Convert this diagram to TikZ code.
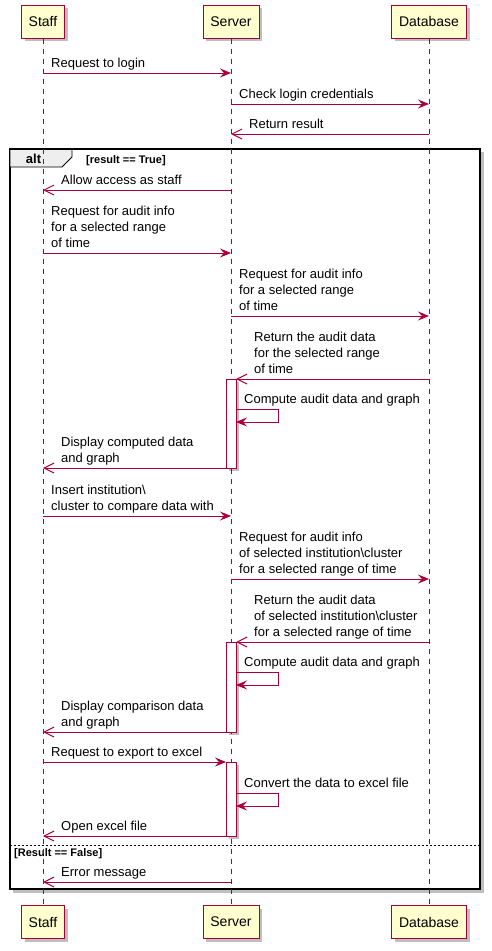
\documentclass[tikz,border=0pt]{standalone}
\usepackage{fontspec}
\setmainfont{Liberation Sans}
\usetikzlibrary{arrows.meta,shadows}
\definecolor{pred}{HTML}{A80036}
\definecolor{pfill}{HTML}{FEFECE}
\definecolor{tabgray}{HTML}{EEEEEE}
\tikzset{
  x=1pt, y=-1pt,
  pshadow/.style={drop shadow={shadow xshift=3pt, shadow yshift=-3pt, fill=black, opacity=0.25}},
  part/.style={draw=pred, fill=pfill, line width=1pt, minimum height=33pt, inner sep=0pt,
    font=\fontsize{14}{16}\selectfont, pshadow},
  lifeline/.style={draw=pred, line width=0.8pt, dash pattern=on 5pt off 5pt},
  actbox/.style={draw=pred, fill=white, line width=1pt, pshadow},
  msg/.style={draw=pred, line width=1pt, -{Stealth[length=11pt,width=9pt,inset=4pt]}},
  ret/.style={draw=pred, line width=1pt, -{Straight Barb[length=10pt,width=10pt,line width=1pt]}},
  mtext/.style={anchor=south west, inner sep=0pt, text depth=0pt, align=left,
    font=\fontsize{13}{16}\selectfont},
  guard/.style={anchor=base west, inner sep=0pt, font=\fontsize{11}{13}\selectfont\bfseries},
}
\begin{document}
\begin{tikzpicture}
\useasboundingbox (0,0) rectangle (492,951);
% alt frame
\fill[black, opacity=0.25] (13,152) rectangle (484,893);
\fill[white] (10,149) rectangle (480,889);
\draw[line width=1.6pt] (10,149) rectangle (480,889);
\draw[fill=tabgray, line width=0.8pt] (10,149) -- (72,149) -- (72,157) -- (62,167) -- (10,167) -- cycle;
\draw[line width=1.6pt] (10,149) -- (480,149);
\node[anchor=base, inner sep=0pt, font=\fontsize{13}{15}\selectfont\bfseries] (altlbl) at (33.5,163) {alt};
\node[guard] (g1) at (86,163) {[result == True]};
\draw[line width=0.7pt, dash pattern=on 2pt off 2pt] (10,845) -- (480,845);
\node[guard] (g2) at (14,856) {[Result == False]};

% participants
\node[part, minimum width=43pt] (st) at (43,21.5) {Staff};
\node[part, minimum width=56pt] (sv) at (231,21.5) {Server};
\node[part, minimum width=75pt] (db) at (429,21.5) {Database};
\node[part, minimum width=43pt] (stb) at (43,922) {Staff};
\node[part, minimum width=56pt] (svb) at (231,922) {Server};
\node[part, minimum width=75pt] (dbb) at (429,922) {Database};
\draw[lifeline] (st.south) -- (stb.north);
\draw[lifeline] (sv.south) -- (svb.north);
\draw[lifeline] (db.south) -- (dbb.north);

% activations
\draw[actbox] (226,379) rectangle (236,468);
\draw[actbox] (226,642) rectangle (236,732);
\draw[actbox] (226,762) rectangle (236,836);

% message end points
\coordinate (a1) at (43,73);   \coordinate (b1) at (231,73);
\coordinate (a2) at (231,104); \coordinate (b2) at (429,104);
\coordinate (a3) at (429,134); \coordinate (b3) at (231,134);
\coordinate (a4) at (231,190); \coordinate (b4) at (43,190);
\coordinate (a5) at (43,253);  \coordinate (b5) at (231,253);
\coordinate (a6) at (231,316); \coordinate (b6) at (429,316);
\coordinate (a7) at (429,379); \coordinate (b7) at (236,379);
\coordinate (a8) at (236,409); \coordinate (b8) at (236,422);
\coordinate (a9) at (226,468); \coordinate (b9) at (43,468);
\coordinate (a10) at (43,516); \coordinate (b10) at (231,516);
\coordinate (a11) at (231,579); \coordinate (b11) at (429,579);
\coordinate (a12) at (429,642); \coordinate (b12) at (236,642);
\coordinate (a13) at (236,672); \coordinate (b13) at (236,685);
\coordinate (a14) at (226,732); \coordinate (b14) at (43,732);
\coordinate (a15) at (43,762); \coordinate (b15) at (226,762);
\coordinate (a16) at (236,793); \coordinate (b16) at (236,806);
\coordinate (a17) at (226,836); \coordinate (b17) at (43,836);
\coordinate (a18) at (231,882); \coordinate (b18) at (43,882);

% messages
\draw[msg] (a1) -- (b1);
\node[mtext] (t1) at (51,68) {Request to login};
\draw[msg] (a2) -- (b2);
\node[mtext] (t2) at (239,99) {Check login credentials};
\draw[ret] (a3) -- (b3);
\node[mtext] (t3) at (249,129) {Return result};
\draw[ret] (a4) -- (b4);
\node[mtext] (t4) at (61,185) {Allow access as staff};
\draw[msg] (a5) -- (b5);
\node[mtext] (t5) at (51,248) {Request for audit info\\for a selected range\\of time};
\draw[msg] (a6) -- (b6);
\node[mtext] (t6) at (239,311) {Request for audit info\\for a selected range\\of time};
\draw[ret] (a7) -- (b7);
\node[mtext] (t7) at (254,374) {Return the audit data\\for the selected range\\of time};
\draw[msg] (a8) -- ++(42,0) -- ++(0,13) -- (b8);
\node[mtext] (t8) at (244,404) {Compute audit data and graph};
\draw[ret] (a9) -- (b9);
\node[mtext] (t9) at (61,463) {Display computed data\\and graph};
\draw[msg] (a10) -- (b10);
\node[mtext] (t10) at (51,511) {Insert institution\textbackslash\\cluster to compare data with};
\draw[msg] (a11) -- (b11);
\node[mtext] (t11) at (239,574) {Request for audit info\\of selected institution\textbackslash cluster\\for a selected range of time};
\draw[ret] (a12) -- (b12);
\node[mtext] (t12) at (254,637) {Return the audit data\\of selected institution\textbackslash cluster\\for a selected range of time};
\draw[msg] (a13) -- ++(42,0) -- ++(0,13) -- (b13);
\node[mtext] (t13) at (244,667) {Compute audit data and graph};
\draw[ret] (a14) -- (b14);
\node[mtext] (t14) at (61,727) {Display comparison data\\and graph};
\draw[msg] (a15) -- (b15);
\node[mtext] (t15) at (51,757) {Request to export to excel};
\draw[msg] (a16) -- ++(42,0) -- ++(0,13) -- (b16);
\node[mtext] (t16) at (244,788) {Convert the data to excel file};
\draw[ret] (a17) -- (b17);
\node[mtext] (t17) at (61,831) {Open excel file};
\draw[ret] (a18) -- (b18);
\node[mtext] (t18) at (61,877) {Error message};
\end{tikzpicture}
\end{document}
